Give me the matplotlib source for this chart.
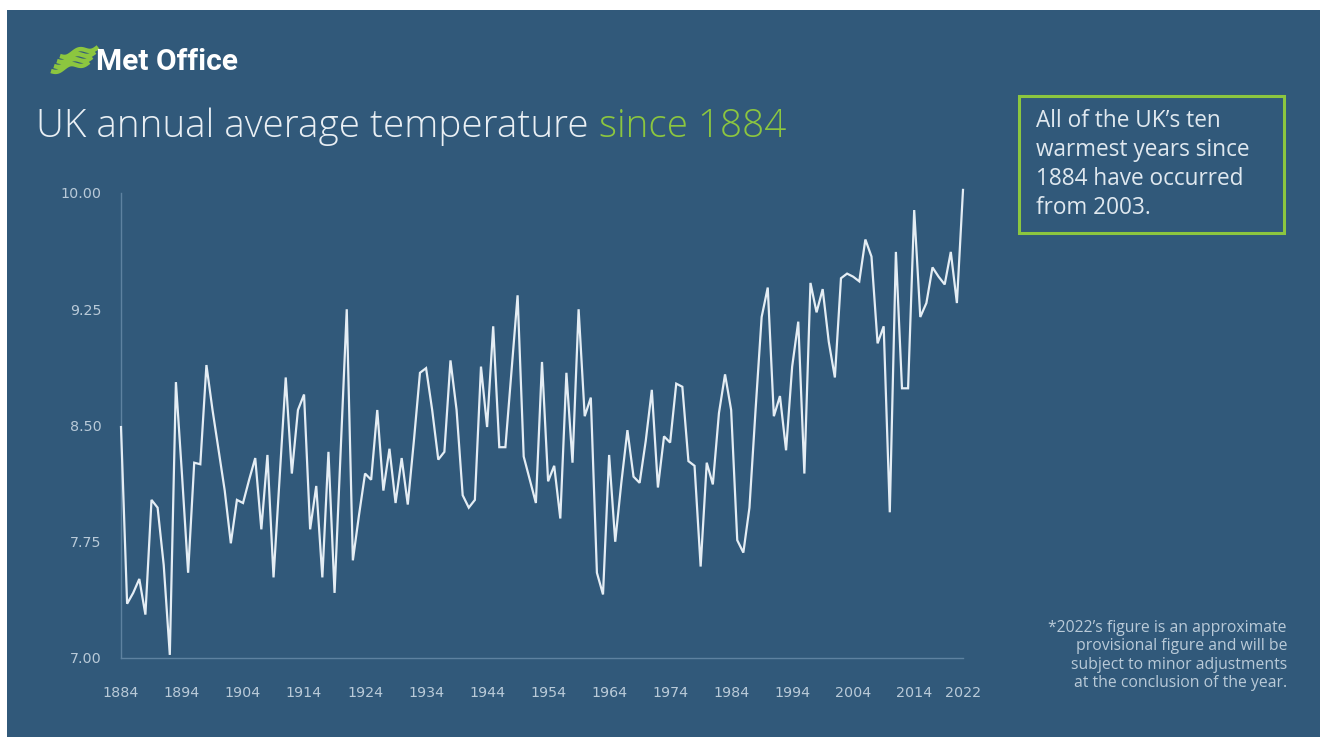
import numpy as np
import matplotlib
matplotlib.use("Agg")
import matplotlib.pyplot as plt
from matplotlib.patches import Rectangle
from matplotlib.lines import Line2D


# ==========================
# Data
# ==========================
years = list(range(1884, 2023))

temps = [
    8.49, 7.35, 7.42, 7.51, 7.28, 8.02, 7.97, 7.60, 7.02, 8.78,   # 1884-1893
    8.18, 7.55, 8.26, 8.25, 8.89, 8.60, 8.34, 8.08, 7.74, 8.02,   # 1894-1903
    8.00, 8.15, 8.29, 7.83, 8.31, 7.52, 8.17, 8.81, 8.19, 8.60,   # 1904-1913
    8.70, 7.83, 8.11, 7.52, 8.33, 7.42, 8.33, 9.25, 7.63, 7.92,   # 1914-1923
    8.19, 8.15, 8.60, 8.08, 8.35, 8.00, 8.29, 7.99, 8.40, 8.84,   # 1924-1933
    8.87, 8.60, 8.28, 8.33, 8.92, 8.60, 8.05, 7.97, 8.02, 8.88,   # 1934-1943
    8.49, 9.14, 8.36, 8.36, 8.85, 9.34, 8.30, 8.15, 8.00, 8.91,   # 1944-1953
    8.14, 8.24, 7.90, 8.84, 8.26, 9.25, 8.56, 8.68, 7.55, 7.41,   # 1954-1963
    8.31, 7.75, 8.13, 8.47, 8.17, 8.13, 8.40, 8.73, 8.10, 8.43,   # 1964-1973
    8.39, 8.77, 8.75, 8.27, 8.24, 7.59, 8.26, 8.12, 8.58, 8.83,   # 1974-1983
    8.60, 7.76, 7.68, 7.97, 8.60, 9.20, 9.39, 8.56, 8.69, 8.34,   # 1984-1993
    8.88, 9.17, 8.19, 9.42, 9.23, 9.38, 9.04, 8.81, 9.45, 9.48,   # 1994-2003
    9.46, 9.43, 9.70, 9.59, 9.03, 9.14, 7.94, 9.62, 8.74, 8.74,   # 2004-2013
    9.89, 9.20, 9.29, 9.52, 9.46, 9.41, 9.62, 9.29, 10.02,        # 2014-2022
]

x_ticks = list(range(1884, 2015, 10)) + [2022]
y_ticks = [7.00, 7.75, 8.50, 9.25, 10.00]

title_main = "UK annual average temperature "
title_accent = "since 1884"
box_lines = [
    "All of the UK\u2019s ten",
    "warmest years since",
    "1884 have occurred",
    "from 2003.",
]
note_lines = [
    "*2022\u2019s figure is an approximate",
    "provisional figure and will be",
    "subject to minor adjustments",
    "at the conclusion of the year.",
]

# ==========================
# Style
# ==========================
W, H = 1328, 747
BG = "#31597a"
GREEN = "#8cc63f"
LINE = "#e4edf4"
TEXT = "#b9cad8"
SPINE = "#5e82a0"
FONT = "Open Sans"
TICK_FONT = "DejaVu Sans"


def fx(x):
    return x / W


def fy(y):
    return 1 - y / H


fig = plt.figure(figsize=(W / 100, H / 100), dpi=100)
fig.patch.set_facecolor("white")

# dark blue panel with a thin white border round it
fig.add_artist(Rectangle((fx(7), fy(737)), fx(1313), 727 / H,
                         transform=fig.transFigure, facecolor=BG,
                         edgecolor="none", zorder=0))

# ==========================
# Main axes
# ==========================
ax = fig.add_axes([fx(121), fy(658), fx(963 - 121), (658 - 193) / H])
ax.set_facecolor("none")
ax.plot(years, temps, color=LINE, lw=1.6, solid_joinstyle="miter",
        clip_on=False, zorder=3)

ax.set_xlim(1884, 2022)
ax.set_ylim(7.0, 10.0)
ax.set_xticks(x_ticks)
ax.set_xticklabels([str(t) for t in x_ticks])
ax.set_yticks(y_ticks)
ax.set_yticklabels([f"{t:.2f}" for t in y_ticks])
ax.tick_params(length=0, colors=TEXT, labelsize=10.3)
ax.tick_params(axis="x", pad=20)
ax.tick_params(axis="y", pad=14)
for lab in ax.get_xticklabels() + ax.get_yticklabels():
    lab.set_family(TICK_FONT)

for side in ["top", "right"]:
    ax.spines[side].set_visible(False)
for side in ["left", "bottom"]:
    ax.spines[side].set_color(SPINE)
    ax.spines[side].set_linewidth(1.0)

# ==========================
# Logo
# ==========================
t = np.linspace(0, 1, 40)
for k in range(4):
    xs = 51 + 38 * t + 3 * k
    ys = 71 - 5 * k - 9 * t + 2.2 * np.sin(2 * np.pi * t * 1.5)
    fig.add_artist(Line2D(fx(xs), fy(ys), transform=fig.transFigure,
                          color=GREEN, lw=3.2, solid_capstyle="butt"))

fig.text(fx(96), fy(62), "Met Office", color="white", fontsize=21.5,
         fontweight="bold", family="Roboto", va="center", ha="left")

# ==========================
# Title (two colours)
# ==========================
renderer = fig.canvas.get_renderer()
t1 = fig.text(fx(36), fy(137), title_main, color="#e9eff4", fontsize=27.8,
              family=FONT, fontweight="light", va="baseline", ha="left")
bb = t1.get_window_extent(renderer)
fig.text(bb.x1 / W, fy(137), title_accent, color=GREEN, fontsize=27.8,
         family=FONT, fontweight="light", va="baseline", ha="left")

# ==========================
# Callout box
# ==========================
fig.add_artist(Rectangle((fx(1019), fy(233)), fx(1284 - 1019), (233 - 96) / H,
                         transform=fig.transFigure, facecolor="none",
                         edgecolor=GREEN, lw=2.2))
for i, line in enumerate(box_lines):
    fig.text(fx(1036), fy(121 + 29 * i), line, color="#dfe8ef",
             fontsize=16.3, family=FONT, va="center", ha="left")

# ==========================
# Footnote
# ==========================
for i, line in enumerate(note_lines):
    fig.text(fx(1287), fy(628 + 18.3 * i), line, color=TEXT,
             fontsize=11.3, family=FONT, va="center", ha="right")

fig.savefig("out.png", dpi=100, facecolor=fig.get_facecolor())
